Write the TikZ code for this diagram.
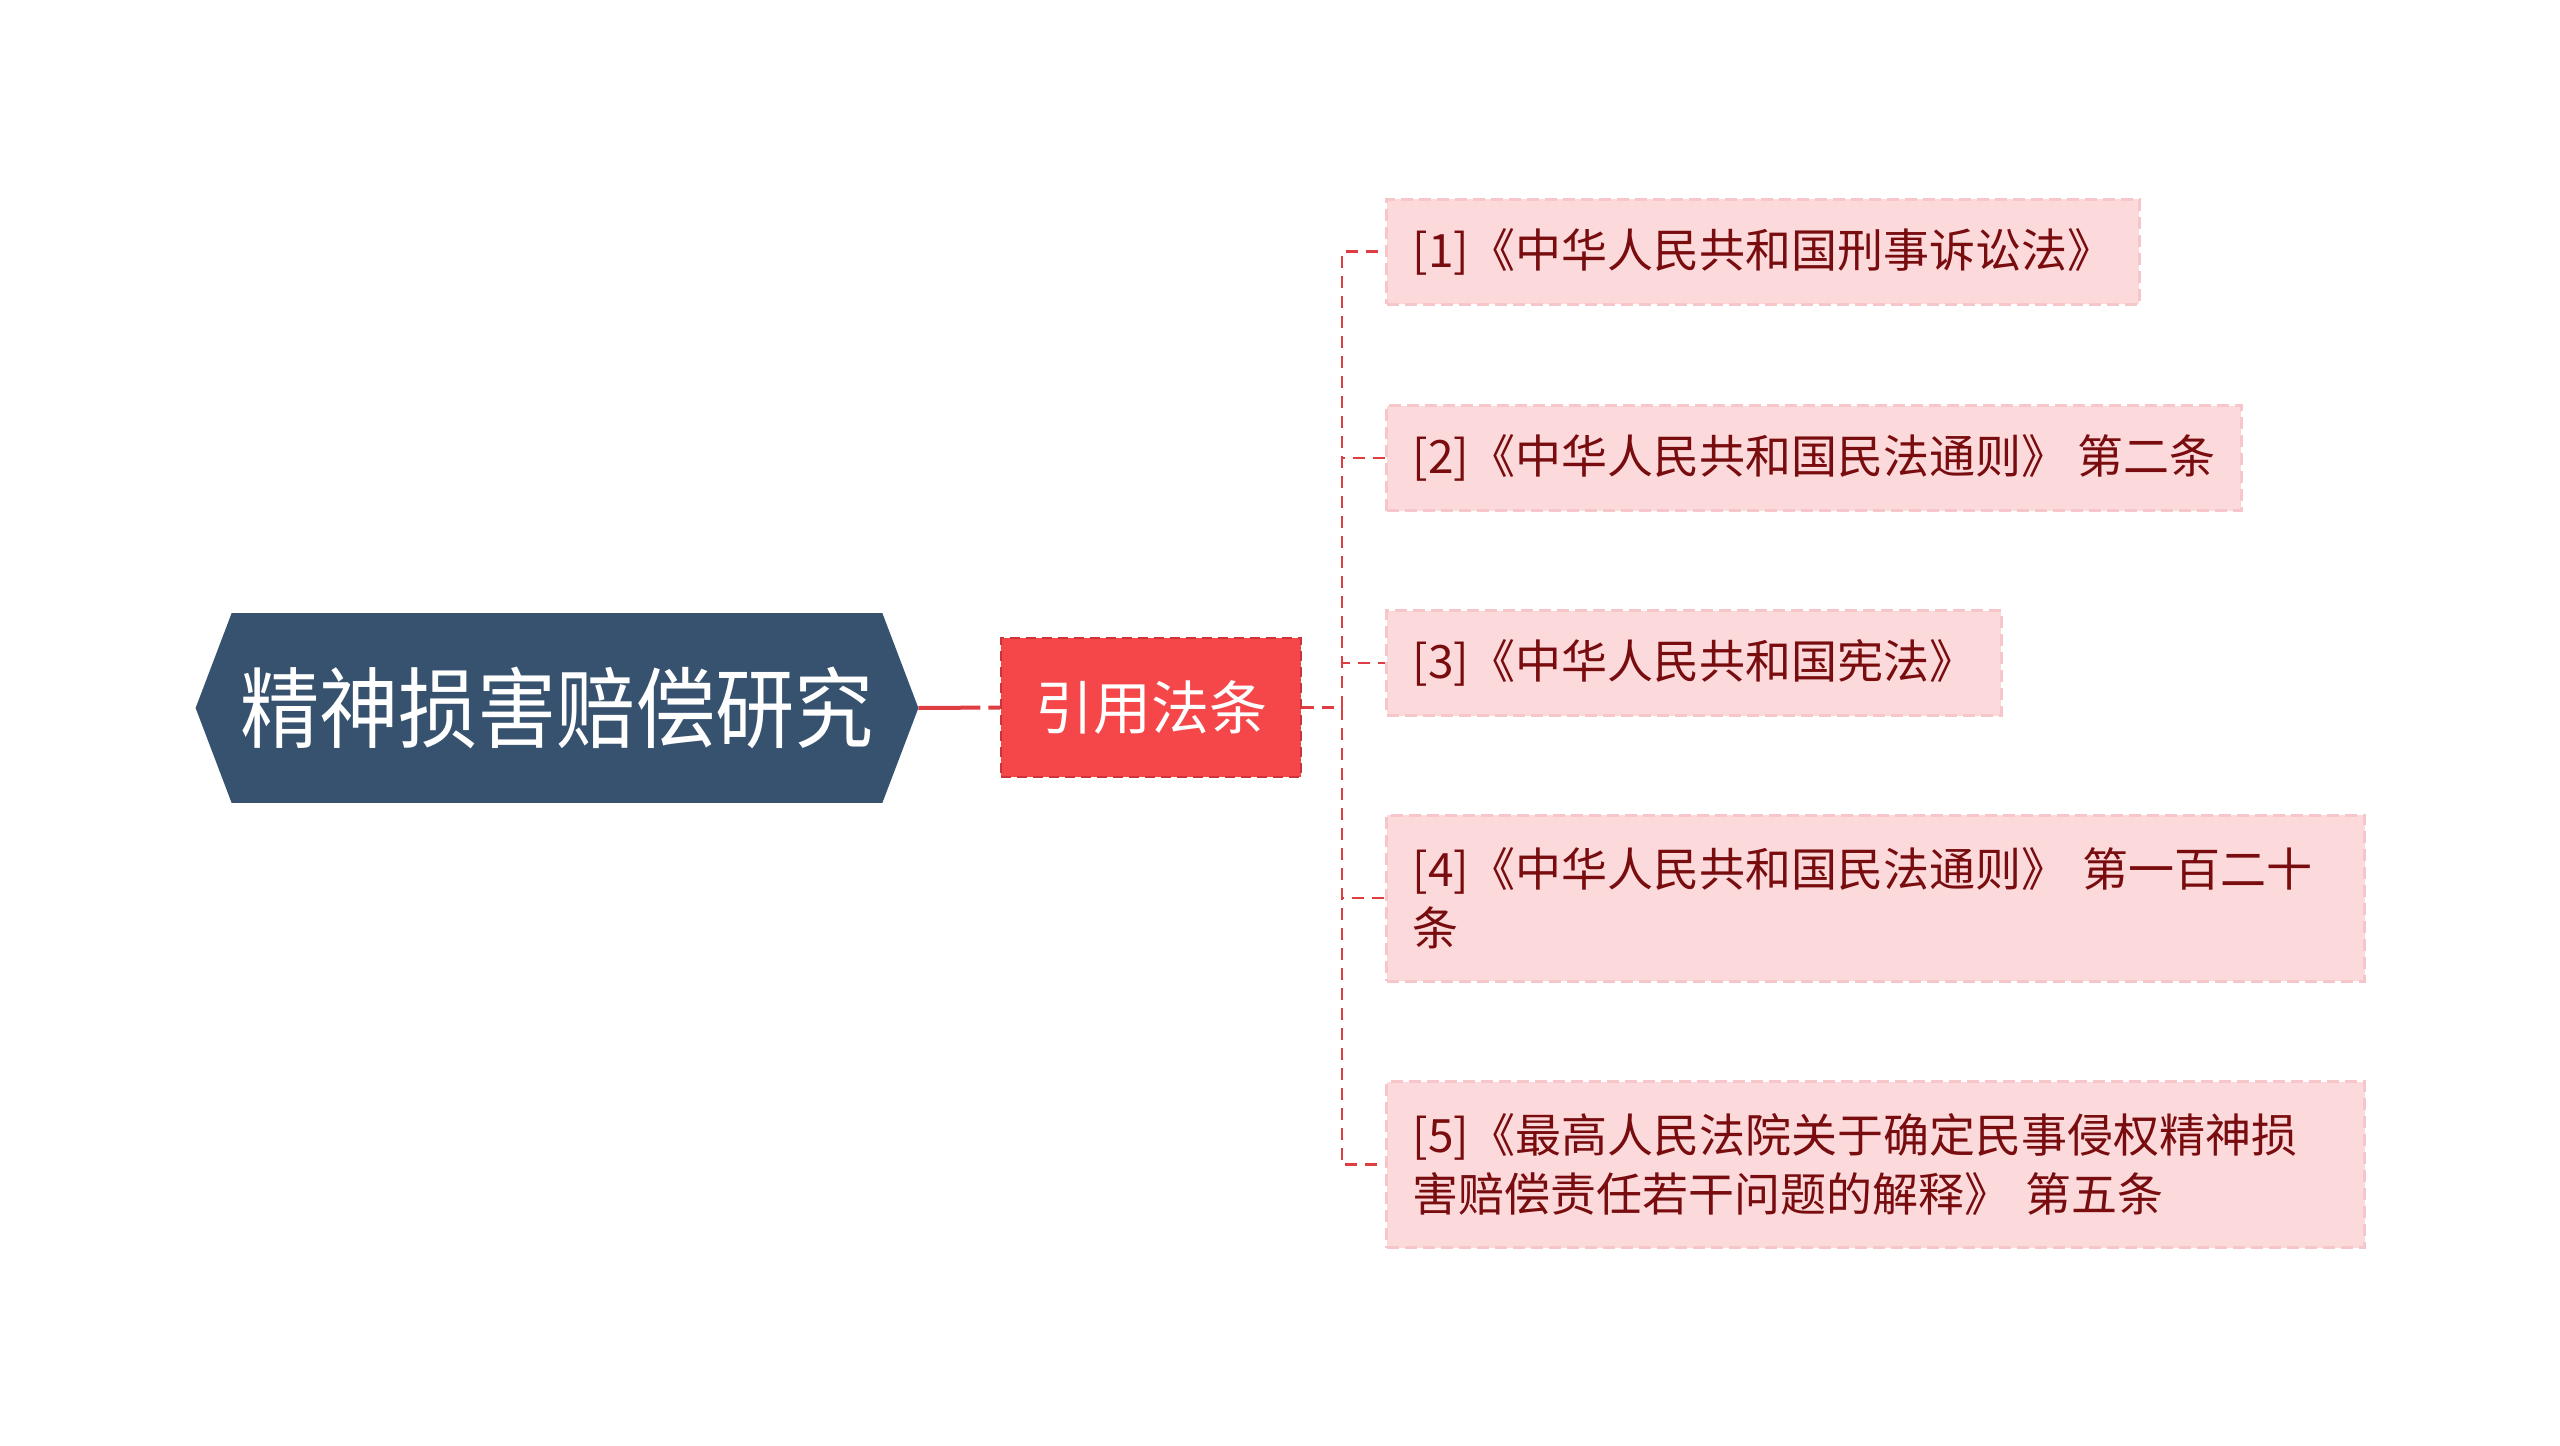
\documentclass[tikz,border=0pt]{standalone}
\usepackage{fontspec}
\newfontfamily\cjk{Noto Sans CJK SC}
\newfontfamily\cjknarrow[FakeStretch=0.9]{Noto Sans CJK SC}
\usetikzlibrary{backgrounds}

\definecolor{rootblue}{RGB}{55,82,110}
\definecolor{lawred}{RGB}{245,71,73}
\definecolor{lawedge}{RGB}{205,52,55}
\definecolor{linkred}{RGB}{222,62,66}
\definecolor{childfill}{RGB}{252,218,220}
\definecolor{childedge}{RGB}{246,198,202}
\definecolor{childtext}{RGB}{120,12,14}

\tikzset{every picture/.style={line width=0.75pt}}
\tikzset{
  rootnode/.style={minimum width=722, minimum height=189, inner sep=0,
    text=white, font=\cjknarrow\fontsize{88}{100}\selectfont},
  lawbox/.style={minimum width=300, minimum height=139, inner sep=0,
    fill=lawred, draw=lawedge, line width=2.5, dash pattern=on 10 off 6,
    text=white, font=\cjk\fontsize{58}{70}\selectfont},
  childbox/.style={anchor=west, inner xsep=26, inner ysep=0, minimum height=105,
    align=left, fill=childfill, draw=childedge, line width=3, dash pattern=on 12 off 6,
    text=childtext, font=\cjk\fontsize{46}{59}\selectfont},
  trunk/.style={draw=linkred, line width=4, dash pattern=on 62 off 8},
  branch/.style={draw=linkred, line width=2.5, dash pattern=on 12 off 8},
}

\begin{document}
\begin{tikzpicture}[x=1pt,y=1pt,yscale=-1,xscale=1]
\path[use as bounding box] (0,0) rectangle (2560,1446);

% root topic
\node[rootnode] (root) at (557,708) {精神损害赔偿研究};
\begin{scope}[on background layer]
\fill[rootblue] (root.west) -- ([xshift=36]root.north west) -- ([xshift=-36]root.north east)
  -- (root.east) -- ([xshift=-36]root.south east) -- ([xshift=36]root.south west) -- cycle;
\end{scope}

% second level
\node[lawbox] (law) at (1151,707.5) {引用法条};
\coordinate (bus) at (1342,707.5);

% leaves
\node[childbox] (c1) at (1385,251.5) {[1]《中华人民共和国刑事诉讼法》};
\node[childbox] (c2) at (1385,458) {[2]《中华人民共和国民法通则》 第二条};
\node[childbox] (c3) at (1385,663) {[3]《中华人民共和国宪法》};
\node[childbox, text width=926, minimum height=166] (c4) at (1385,898)
  {[4]《中华人民共和国民法通则》 第一百二十\\条};
\node[childbox, text width=926, minimum height=166] (c5) at (1385,1164.5)
  {[5]《最高人民法院关于确定民事侵权精神损\\害赔偿责任若干问题的解释》 第五条};

% connectors
\draw[trunk] (root.east) -- (law.west);
\draw[branch] (law.east) -- (bus);
\foreach \c in {c1,c2,c3,c4,c5}
  \draw[branch] (bus) |- (\c.west);

\end{tikzpicture}
\end{document}
